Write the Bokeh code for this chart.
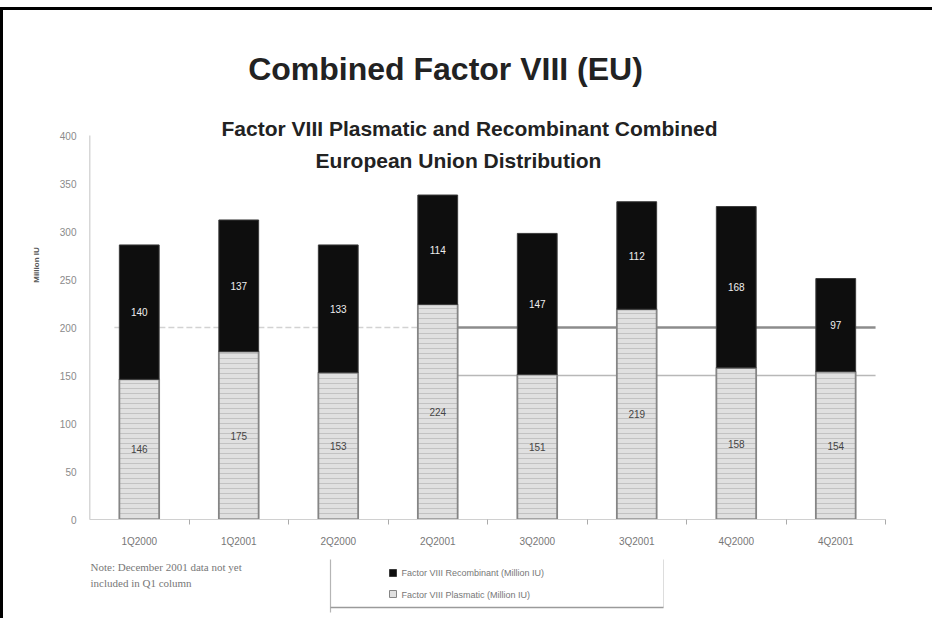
from bokeh.plotting import figure
from bokeh.layouts import column
from bokeh.models import (Label, Range1d, FixedTicker, ColumnDataSource, LabelSet)
from bokeh.core.properties import value
from bokeh.embed import file_html
from bokeh.resources import INLINE

quarters = ["1Q2000", "1Q2001", "2Q2000", "2Q2001", "3Q2000", "3Q2001", "4Q2000", "4Q2001"]
plasmatic = [146, 175, 153, 224, 151, 219, 158, 154]
recombinant = [140, 137, 133, 114, 147, 112, 168, 97]
y_ticks = [0, 50, 100, 150, 200, 250, 300, 350, 400]
ref_levels = [200, 150]
series_names = ["Factor VIII Recombinant (Million IU)", "Factor VIII Plasmatic (Million IU)"]
note_lines = ["Note:  December 2001 data not yet", "included in Q1 column"]

FONT = "Liberation Sans"
OX, OY = 3, 10                 # page offset of content (border)
WA, HA = 929, 543              # main figure
HB = 65                        # bottom strip (note + legend)
FL, FR, FB = 89 - OX, 885 - OX, 519 - OY   # frame edges inside main figure
YMAX = 400
y_top = YMAX * FB / ((519 - 135))          # value at the very top of the frame

n = len(quarters)
xpos = [i + 0.5 for i in range(n)]

p = figure(x_range=Range1d(0, n), y_range=Range1d(0, y_top), width=WA, height=HA,
           output_backend="svg", toolbar_location=None,
           min_border_left=FL, min_border_right=WA - FR, min_border_top=0, min_border_bottom=HA - FB)
p.outline_line_color = None
p.background_fill_color = "white"
p.border_fill_color = "white"
p.grid.visible = False

# y axis line (only up to 400)
p.segment(x0=[0], x1=[0], y0=[0], y1=[YMAX], line_color="#b0b0b0", line_width=1.5)

# reference lines
p.segment(x0=[0.25], x1=[3.5], y0=[ref_levels[0]], y1=[ref_levels[0]],
          line_color="#d2d2d2", line_width=1.5, line_dash="6 3")
p.segment(x0=[3.5], x1=[7.9], y0=[ref_levels[0]], y1=[ref_levels[0]],
          line_color="#8c8c8c", line_width=2.5)
p.segment(x0=[3.5], x1=[7.9], y0=[ref_levels[1]], y1=[ref_levels[1]],
          line_color="#b8b8b8", line_width=1.5)

totals = [a + b for a, b in zip(plasmatic, recombinant)]
src = ColumnDataSource(dict(x=xpos, plas=plasmatic, rec=recombinant, tot=totals,
                            pmid=[v / 2 for v in plasmatic],
                            rmid=[a + b / 2 for a, b in zip(plasmatic, recombinant)],
                            ptxt=[str(v) for v in plasmatic], rtxt=[str(v) for v in recombinant]))

PLAS = dict(fill_color="#e0e0e0", line_color="#858585", hatch_pattern="horizontal_line",
            hatch_color="#c2c2c2", hatch_scale=5, hatch_weight=1)
REC = dict(fill_color="#0e0e0e", line_color="#3a3a3a")

p.vbar(x="x", top="plas", bottom=0, width=0.4, source=src, line_width=1.8, **PLAS)
p.vbar(x="x", top="tot", bottom="plas", width=0.4, source=src, line_width=1, **REC)

p.add_layout(LabelSet(x="x", y="pmid", text="ptxt", source=src, text_align="center",
                      text_baseline="middle", text_font_size="10px", text_color="#444444",
                      text_font=value(FONT)))
p.add_layout(LabelSet(x="x", y="rmid", text="rtxt", source=src, text_align="center",
                      text_baseline="middle", text_font_size="10px", text_color="#eeeeee",
                      text_font=value(FONT)))

# axes
p.yaxis.ticker = FixedTicker(ticks=y_ticks)
p.yaxis.axis_line_color = None
p.yaxis.major_tick_line_color = None
p.yaxis.minor_tick_line_color = None
p.yaxis.major_label_text_font_size = "10px"
p.yaxis.major_label_text_color = "#8a8a8a"
p.yaxis.major_label_text_font = FONT
p.yaxis.major_label_standoff = 7
p.yaxis.axis_label = "Million IU"
p.yaxis.axis_label_text_font_size = "8px"
p.yaxis.axis_label_text_font_style = "bold"
p.yaxis.axis_label_text_color = "#555555"
p.yaxis.axis_label_text_font = FONT
p.yaxis.axis_label_standoff = 16

p.xaxis.ticker = FixedTicker(ticks=xpos, minor_ticks=list(range(1, n + 1)))
p.xaxis.major_label_overrides = {x: q for x, q in zip(xpos, quarters)}
p.xaxis.axis_line_color = "#d0d0d0"
p.xaxis.major_tick_line_color = None
p.xaxis.minor_tick_line_color = "#aaaaaa"
p.xaxis.minor_tick_out = 5
p.xaxis.minor_tick_in = 0
p.xaxis.major_label_text_font_size = "10px"
p.xaxis.major_label_text_color = "#777777"
p.xaxis.major_label_text_font = FONT
p.xaxis.major_label_standoff = 10


def sx(px):  # page x -> frame-relative screen x
    return px - OX - FL


def sy(py):  # page y -> frame-relative screen y (upward from frame bottom)
    return FB - (py - OY)


# titles
p.add_layout(Label(x=sx(445), y=sy(68), x_units="screen", y_units="screen",
                   text="Combined Factor VIII (EU)", text_align="center", text_baseline="middle",
                   text_font=FONT, text_font_style="bold", text_font_size="32px",
                   text_color="#222222"))
p.add_layout(Label(x=sx(469), y=sy(128), x_units="screen", y_units="screen",
                   text="Factor VIII Plasmatic and Recombinant Combined", text_align="center",
                   text_baseline="middle", text_font=FONT, text_font_style="bold",
                   text_font_size="21px", text_color="#222222"))
p.add_layout(Label(x=sx(458), y=sy(160), x_units="screen", y_units="screen",
                   text="European Union Distribution", text_align="center",
                   text_baseline="middle", text_font=FONT, text_font_style="bold",
                   text_font_size="21px", text_color="#222222"))

# ---- bottom strip: note and legend (page pixel coordinates, y downward) ----
# the column aligns this strip's frame with the main frame (page x 89..885)
PX0, PX1 = OX + FL, OX + FR
B0 = 553  # page y where strip starts
q = figure(x_range=Range1d(PX0, PX1), y_range=Range1d(B0 + HB, B0), width=WA, height=HB,
           output_backend="svg", toolbar_location=None, x_axis_type=None, y_axis_type=None,
           min_border_left=FL, min_border_right=WA - FR, min_border_top=0, min_border_bottom=0)
q.outline_line_color = None
q.grid.visible = False
q.background_fill_color = "white"
q.border_fill_color = "white"

q.text(x=[PX0 + 1] * 2, y=[566, 582], text=note_lines, text_baseline="middle",
       text_font=value("Liberation Serif"), text_font_size="11px", text_color="#777777")

q.segment(x0=[330], x1=[330], y0=[559], y1=[612], line_color="#b5b5b5", line_width=1.2)
q.segment(x0=[663], x1=[663], y0=[559], y1=[607], line_color="#dddddd", line_width=1)
q.segment(x0=[330], x1=[663], y0=[607], y1=[607], line_color="#9a9a9a", line_width=1.5)

q.quad(left=[389], right=[396], top=[569], bottom=[576], line_width=1, **REC)
q.quad(left=[389], right=[396], top=[590], bottom=[597], line_width=1,
       fill_color="#e0e0e0", line_color="#858585")
q.text(x=[401] * 2, y=[572, 594], text=series_names, text_baseline="middle",
       text_font=value(FONT), text_font_size="9px", text_color="#777777")

layout = column(p, q, spacing=0,
                styles={"border-left": "3px solid black", "border-top": "3px solid black",
                        "margin-top": "7px"})

open("out.html", "w").write(file_html(layout, INLINE))
